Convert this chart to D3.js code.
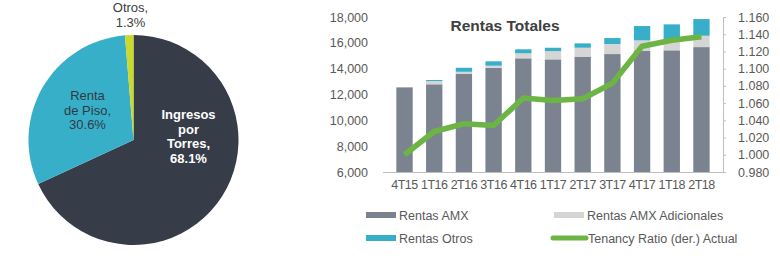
<!DOCTYPE html>
<html>
<head>
<meta charset="utf-8">
<script src="https://cdn.jsdelivr.net/npm/d3@7"></script>
<style>
  body { margin: 0; background: #fff; }
  svg { display: block; font-family: "Liberation Sans", Arial, sans-serif; }
</style>
</head>
<body>
<svg id="chart" width="780" height="264"></svg>
<script>
// Pie data
const pieLabels = [["Ingresos", "por", "Torres,", "68.1%"], ["Renta", "de Piso,", "30.6%"], ["Otros,", "1.3%"]];
const pieValues = [68.1, 30.6, 1.3];
const pieColors = ["#363d48", "#38afc9", "#c9da2a"];

// Bar / line data
const quarters = ["4T15", "1T16", "2T16", "3T16", "4T16", "1T17", "2T17", "3T17", "4T17", "1T18", "2T18"];
const rentasAMX = [12550, 12790, 13610, 14070, 14800, 14720, 14930, 15130, 15370, 15420, 15670];
const rentasAdicionales = [0, 250, 150, 160, 390, 640, 690, 780, 820, 800, 880];
const rentasOtros = [0, 80, 310, 340, 310, 260, 340, 460, 1110, 1210, 1290];
const tenancy = [1.000, 1.027, 1.036, 1.034, 1.066, 1.063, 1.065, 1.083, 1.126, 1.133, 1.137];
const leftTicks = [6000, 8000, 10000, 12000, 14000, 16000, 18000];
const rightTicks = [0.98, 1.00, 1.02, 1.04, 1.06, 1.08, 1.10, 1.12, 1.14, 1.16];

const seriesNames = ["Rentas AMX", "Rentas AMX Adicionales", "Rentas Otros"];
const seriesColors = ["#7a838f", "#d5d5d5", "#38afc9"];
const lineColor = "#6cb545";
const textColor = "#595959";

const svg = d3.select("#chart");

// ---- Pie ----
const cx = 133.5, cy = 140, r = 105;
const pie = d3.pie().sort(null).value(d => d)(pieValues);
const arc = d3.arc().innerRadius(0).outerRadius(r);
const pg = svg.append("g").attr("transform", `translate(${cx},${cy})`);
pg.selectAll("path")
  .data(pie)
  .join("path")
  .attr("d", arc)
  .attr("fill", (d, i) => pieColors[i]);

// label positions relative to pie center
const labelPos = [[55, -21], [-46, -40], [-3, -128]];
const labelStyle = [
  {fill: "#fff", weight: "bold"},
  {fill: "#2f3a44", weight: "normal"},
  {fill: "#404040", weight: "normal"}
];
pieLabels.forEach((lines, i) => {
  const t = pg.append("text")
    .attr("text-anchor", "middle")
    .attr("font-size", 13)
    .attr("font-weight", labelStyle[i].weight)
    .attr("fill", labelStyle[i].fill);
  lines.forEach((l, j) => {
    t.append("tspan")
      .attr("x", labelPos[i][0])
      .attr("y", labelPos[i][1] + j * 14.5)
      .text(l);
  });
});

// ---- Bar chart ----
const plotLeft = 383, plotRight = 723, plotTop = 17, plotBottom = 172;

const x = d3.scaleBand().domain(quarters).range([plotLeft, plotRight]).padding(0.45);
const y = d3.scaleLinear().domain([6000, 18000]).range([plotBottom, plotTop]);
const y2 = d3.scaleLinear().domain([0.98, 1.16]).range([plotBottom, plotTop]);

const stackData = quarters.map((q, i) => ({
  q: q, amx: rentasAMX[i], adic: rentasAdicionales[i], otros: rentasOtros[i]
}));
const stack = d3.stack().keys(["amx", "adic", "otros"])(stackData);

svg.append("g")
  .selectAll("g")
  .data(stack)
  .join("g")
  .attr("fill", (d, i) => seriesColors[i])
  .selectAll("rect")
  .data(d => d)
  .join("rect")
  .attr("x", d => x(d.data.q))
  .attr("width", x.bandwidth())
  .attr("y", d => y(Math.max(d[1], 6000)))
  .attr("height", d => Math.max(0, y(Math.max(d[0], 6000)) - y(Math.max(d[1], 6000))));

// left axis
const fmt = d3.format(",");
const ax = svg.append("g")
  .attr("transform", `translate(${plotLeft},0)`)
  .call(d3.axisLeft(y).tickValues(leftTicks).tickFormat(fmt).tickSize(0).tickPadding(15));
ax.select(".domain").remove();
ax.selectAll("text").attr("font-size", 12.5).attr("fill", textColor).attr("font-family", "Liberation Sans, Arial, sans-serif");

// right axis
const ar = svg.append("g")
  .attr("transform", `translate(${plotRight},0)`)
  .call(d3.axisRight(y2).tickValues(rightTicks).tickFormat(d3.format(".3f")).tickSize(3).tickPadding(12));
ar.select(".domain").attr("stroke", "#bfbfbf");
ar.selectAll(".tick line").attr("stroke", "#bfbfbf");
ar.selectAll("text").attr("font-size", 12.5).attr("fill", textColor).attr("font-family", "Liberation Sans, Arial, sans-serif");

// bottom axis
const ab = svg.append("g")
  .attr("transform", `translate(0,${plotBottom})`)
  .call(d3.axisBottom(x).tickSize(0).tickPadding(8));
ab.select(".domain").attr("stroke", "#bfbfbf").attr("d", `M${plotLeft},0.5H${plotRight}`);
ab.selectAll("text").attr("font-size", 12.5).attr("fill", textColor).attr("font-family", "Liberation Sans, Arial, sans-serif").attr("letter-spacing", -0.5);

// tenancy line
const line = d3.line()
  .x((d, i) => x(quarters[i]) + x.bandwidth() / 2)
  .y(d => y2(d));
svg.append("path")
  .datum(tenancy)
  .attr("d", line)
  .attr("fill", "none")
  .attr("stroke", lineColor)
  .attr("stroke-width", 5.5)
  .attr("stroke-linejoin", "round");

// title
svg.append("text")
  .attr("x", 505).attr("y", 31)
  .attr("text-anchor", "middle")
  .attr("font-size", 15.5)
  .attr("font-weight", "bold")
  .attr("fill", "#404040")
  .text("Rentas Totales");

// legend
const legendItems = [
  {name: seriesNames[0], color: seriesColors[0], x: 366, y: 215, type: "bar"},
  {name: seriesNames[1], color: seriesColors[1], x: 554, y: 215, type: "bar"},
  {name: seriesNames[2], color: seriesColors[2], x: 366, y: 238, type: "bar"},
  {name: "Tenancy Ratio (der.) Actual", color: lineColor, x: 553, y: 238, type: "line"}
];
const lg = svg.append("g");
legendItems.forEach(it => {
  if (it.type === "bar") {
    lg.append("rect").attr("x", it.x).attr("y", it.y - 3).attr("width", 30).attr("height", 6).attr("fill", it.color);
  } else {
    lg.append("line").attr("x1", it.x).attr("x2", it.x + 33).attr("y1", it.y).attr("y2", it.y)
      .attr("stroke", it.color).attr("stroke-width", 5).attr("stroke-linecap", "round");
  }
  lg.append("text")
    .attr("x", it.x + (it.type === "bar" ? 33 : 35))
    .attr("y", it.y + 4.5)
    .attr("font-size", 12.5)
    .attr("fill", textColor)
    .text(it.name);
});
</script>
</body>
</html>
